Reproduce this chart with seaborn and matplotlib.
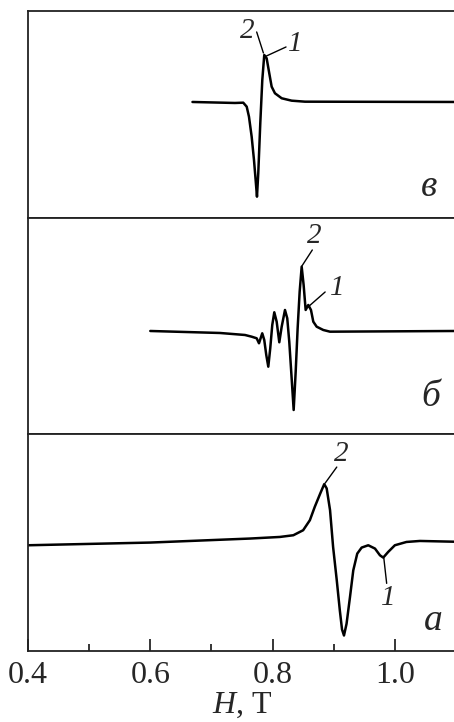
import numpy as np
import pandas as pd
import matplotlib
matplotlib.use("Agg")
import matplotlib.pyplot as plt
import seaborn as sns

# ---- data ----
# panel "в" (top)
H_v = [0.669, 0.7385, 0.752, 0.7577, 0.7614, 0.7658, 0.7696, 0.7723, 0.7745,
       0.7766, 0.7799, 0.7832, 0.7864, 0.7903, 0.7946, 0.7985, 0.8039, 0.8149,
       0.8312, 0.853, 1.100]
S_v = [1, 0, 0.3, -3.7, -13.7, -33.7, -57, -77, -93.7, -70.3, -20.3, 23, 48,
       44.7, 29.7, 16.3, 9.7, 4.7, 2.3, 1.3, 1]

# panel "б" (middle)
H_b = [0.600, 0.714, 0.7549, 0.7658, 0.774, 0.7778, 0.7831, 0.7864, 0.7897,
       0.793, 0.7962, 0.7995, 0.8028, 0.8067, 0.811, 0.8149, 0.8203, 0.824,
       0.8273, 0.8312, 0.8345, 0.8378, 0.841, 0.8443, 0.8476, 0.8508, 0.8541,
       0.8584, 0.8628, 0.8666, 0.8721, 0.8829, 0.8939, 1.100]
S_b = [0, -2, -4, -5.7, -7.3, -12.3, -2.3, -9, -24, -35.7, -17.3, 6, 18.7,
       9.3, -11.3, 4.3, 21, 12.7, -10.7, -47.3, -79, -40.7, 2.7, 39.3, 64.3,
       46, 21, 26, 21, 9.3, 4.3, 1, -0.7, 0]

# panel "а" (bottom)
H_a = [0.400, 0.600, 0.763, 0.812, 0.834, 0.850, 0.861, 0.869, 0.878, 0.8845,
       0.8885, 0.894, 0.899, 0.905, 0.910, 0.9136, 0.9168, 0.921, 0.9266,
       0.932, 0.9385, 0.9457, 0.9565, 0.9675, 0.9756, 0.981, 0.989, 1.000,
       1.019, 1.041, 1.100]
S_a = [0, 2.7, 6.7, 8.3, 10, 15, 25, 38.3, 51.7, 61, 56.7, 35, -1.7, -35,
       -65, -84, -90, -78.3, -51.7, -25, -8.3, -2.3, 0, -3.3, -10, -12.3,
       -6.7, 0, 3.3, 4.3, 3.5]

panel_letters = ["в", "б", "а"]
x_ticks = [0.4, 0.6, 0.8, 1.0]
x_tick_labels = ["0.4", "0.6", "0.8", "1.0"]
x_minor = [0.5, 0.7, 0.9]

sns.set_style("ticks")
plt.rcParams['font.family'] = ['Liberation Serif', 'DejaVu Serif']
plt.rcParams['mathtext.fontset'] = 'custom'
plt.rcParams['mathtext.it'] = 'Liberation Serif:italic'
plt.rcParams['mathtext.rm'] = 'Liberation Serif'

fig = plt.figure(figsize=(4.54, 7.22), dpi=100)
left = 28 / 454
width = (456 - 28) / 454
ax_v = fig.add_axes([left, 0.6981, width, 0.2867])
ax_b = fig.add_axes([left, 0.3989, width, 0.2992])
ax_a = fig.add_axes([left, 0.0990, width, 0.2999])

panels = [
    (ax_v, H_v, S_v, (-115, 92)),
    (ax_b, H_b, S_b, (-103, 113)),
    (ax_a, H_a, S_a, (-105, 111)),
]

for ax, H, S, yl in panels:
    df = pd.DataFrame({"H": H, "S": S})
    sns.lineplot(data=df, x="H", y="S", ax=ax, color="black", lw=1.8,
                 estimator=None, sort=False)
    ax.set_xlim(0.4, 1.1)
    ax.set_ylim(*yl)
    ax.set_yticks([])
    ax.set_ylabel("")
    ax.set_xlabel("")
    for side in ["left", "top", "bottom"]:
        ax.spines[side].set_visible(True)
        ax.spines[side].set_linewidth(1.3)
        ax.spines[side].set_color("#222222")
    ax.spines["right"].set_visible(False)

for ax in (ax_v, ax_b):
    ax.set_xticks([])

ax_a.set_xticks(x_ticks)
ax_a.set_xticklabels(x_tick_labels)
ax_a.set_xticks(x_minor, minor=True)
ax_a.tick_params(axis="x", which="major", direction="in", length=9, width=1.3,
                 labelsize=23, pad=7.5)
ax_a.tick_params(axis="x", which="minor", direction="in", length=5, width=1.3)
ax_a.set_xlabel(r"$\mathit{H}$, T", fontsize=23, labelpad=0.5)

txt_kw = dict(fontsize=21, fontstyle="italic", ha="center", va="center")
let_kw = dict(fontsize=27, fontstyle="italic", ha="center", va="center")
line_kw = dict(arrowstyle="-", color="black", lw=1.0, shrinkA=0, shrinkB=0)

def label(ax, txt, pos, p0, p1):
    ax.text(pos[0], pos[1], txt, **txt_kw)
    ax.annotate("", xy=p1, xytext=p0, arrowprops=line_kw)

label(ax_v, "2", (0.758, 72), (0.774, 71), (0.785, 50))
label(ax_v, "1", (0.837, 59), (0.822, 56), (0.790, 47))
ax_v.text(1.056, -84, panel_letters[0], **let_kw)

label(ax_b, "2", (0.869, 95), (0.865, 81), (0.848, 65))
label(ax_b, "1", (0.905, 43), (0.886, 39), (0.858, 24))
ax_b.text(1.059, -66, panel_letters[1], **let_kw)

label(ax_a, "2", (0.913, 91), (0.905, 78), (0.886, 62))
label(ax_a, "1", (0.989, -53), (0.9866, -38), (0.982, -13))
ax_a.text(1.063, -75, panel_letters[2], **let_kw)

fig.savefig("out.png", dpi=100)
